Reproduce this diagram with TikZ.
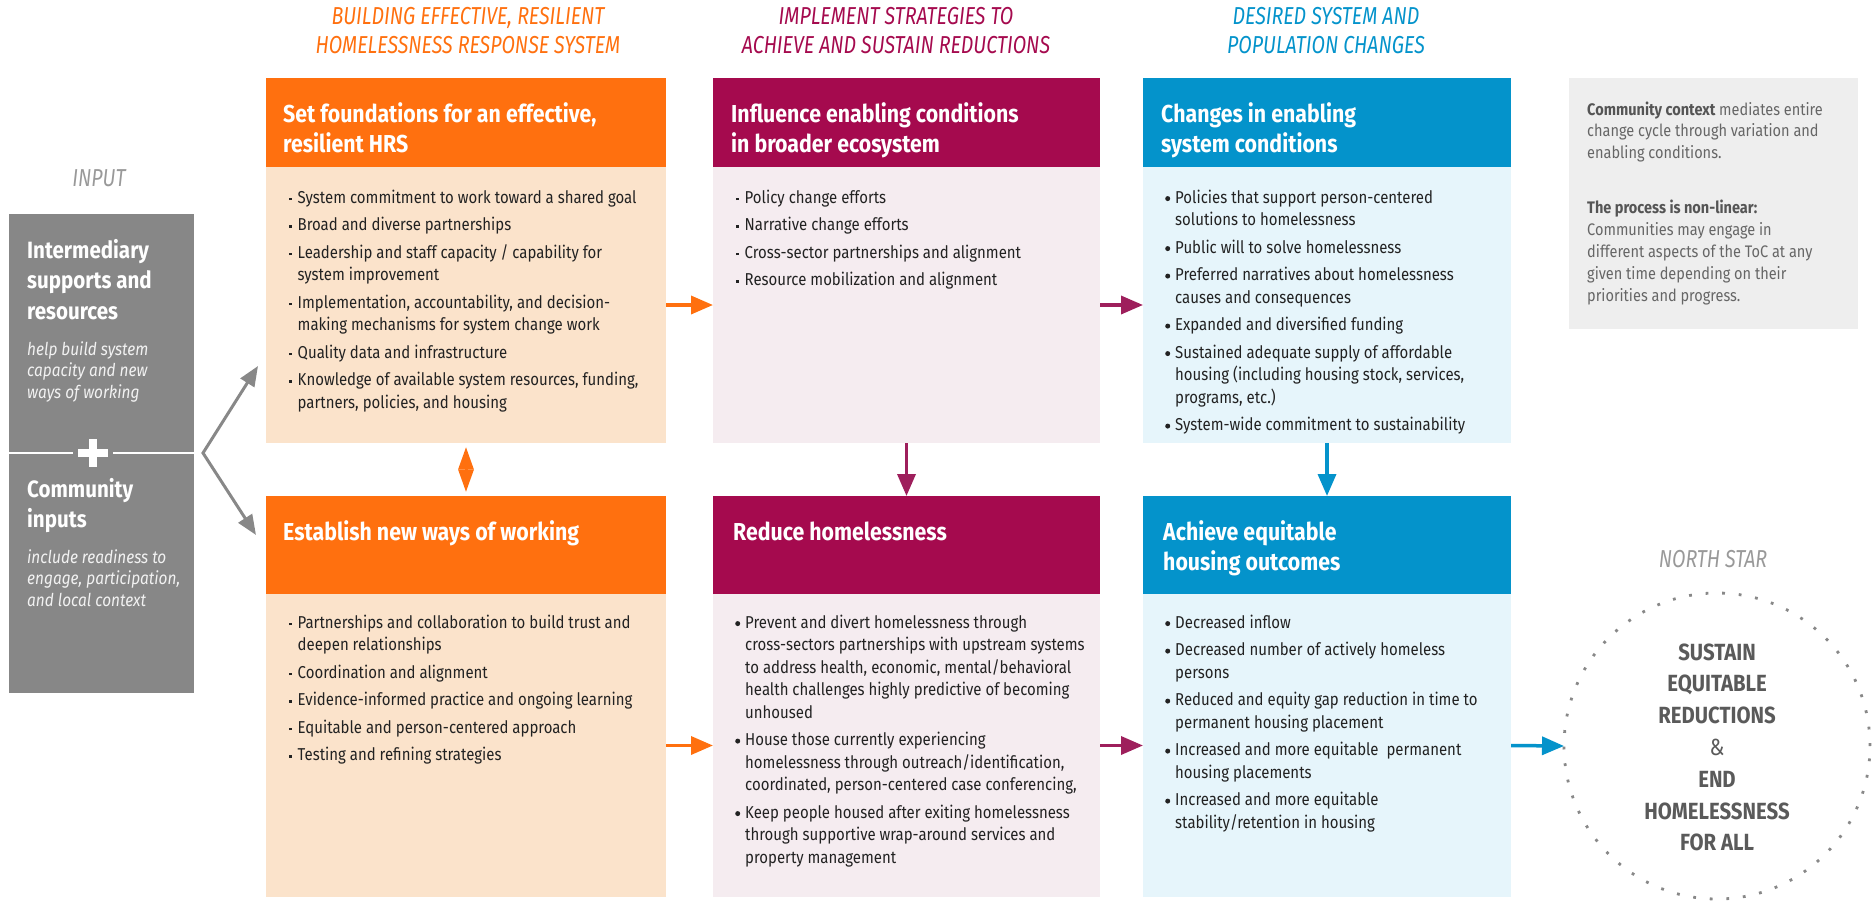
\documentclass[tikz,border=0pt]{standalone}
\usepackage{fontspec}
\setmainfont{Fira Sans}[FakeStretch=0.87]
\newfontfamily\capfont{Fira Sans}[FakeStretch=0.80]
\usetikzlibrary{arrows.meta}
\definecolor{oHead}{HTML}{FF700F}
\definecolor{oBody}{HTML}{FBE3CB}
\definecolor{mHead}{HTML}{A50A4E}
\definecolor{mBody}{HTML}{F5ECF0}
\definecolor{mArrow}{HTML}{9E1F5C}
\definecolor{bHead}{HTML}{0493CB}
\definecolor{bBody}{HTML}{E6F5FB}
\definecolor{inGray}{HTML}{878787}
\definecolor{noteBg}{HTML}{EEEEEE}
\definecolor{noteTx}{HTML}{666666}
\definecolor{noteBd}{HTML}{555555}
\definecolor{txt}{HTML}{222222}
\definecolor{starTx}{HTML}{5A5A5A}
\definecolor{lblGray}{HTML}{999999}
\definecolor{dotGray}{HTML}{888888}
\definecolor{inTx}{HTML}{F2F2F2}
\newcommand\lines[1]{\begin{tabular}[t]{@{}l@{}}#1\end{tabular}}
\newcommand\clines[1]{\begin{tabular}[t]{@{}c@{}}#1\end{tabular}}
\newcommand\blist[1]{\begin{tabular}[t]{@{}l@{}l@{}}#1\end{tabular}}
\newcommand\sqb{\makebox[8.5pt][l]{\raisebox{0.32ex}{\rule{2.4pt}{2.4pt}}}}
\newcommand\rdb{\makebox[10pt][l]{\raisebox{0.2ex}{\tikz[baseline=-2.6pt]\fill (0,0) circle[radius=2.5pt];}}}
\begin{document}
\begin{tikzpicture}[x=1pt,y=-1pt,
  box/.style={anchor=north west, inner sep=0pt, outer sep=0pt, draw=none},
  headtxt/.style={anchor=base west, inner sep=0pt, text=white, font=\fontsize{24.5}{30.5}\selectfont\bfseries},
  bodytxt/.style={anchor=base west, inner sep=0pt, text=txt, font=\fontsize{17.2}{22.5}\selectfont},
  coltitle/.style={anchor=base, inner sep=0pt, font=\capfont\itshape\fontsize{24.5}{29}\selectfont},
  inbold/.style={anchor=base west, inner sep=0pt, text=white, font=\fontsize{23.6}{30.5}\selectfont\bfseries},
  inital/.style={anchor=base west, inner sep=0pt, text=inTx, font=\fontsize{17.7}{21.7}\selectfont\itshape},
  arr/.style={line width=3.5pt, -{Triangle[length=22pt,width=18pt]}},
  oarrow/.style={arr, draw=oHead, fill=oHead},
  marrow/.style={arr, draw=mArrow, fill=mArrow},
  barrow/.style={arr, draw=bHead, fill=bHead},
  garrow/.style={line width=3pt, draw=dotGray, {Triangle[length=20pt,width=16pt]}-{Triangle[length=20pt,width=16pt]}},
]
\useasboundingbox (0,0) rectangle (1873,902);

% column titles
\node[coltitle, text=oHead] (ct1) at (468,24) {\clines{BUILDING EFFECTIVE, RESILIENT\\HOMELESSNESS RESPONSE SYSTEM}};
\node[coltitle, text=mHead] (ct2) at (896,24) {\clines{IMPLEMENT STRATEGIES TO\\ACHIEVE AND SUSTAIN REDUCTIONS}};
\node[coltitle, text=bHead] (ct3) at (1326,24) {\clines{DESIRED SYSTEM AND\\POPULATION CHANGES}};

% input
\node[coltitle, text=lblGray] (inlbl) at (99,186) {INPUT};
\node[box, fill=inGray, minimum width=185pt, minimum height=479pt] (inp) at (9,214) {};
\node[inbold] (in1) at (27,258) {\lines{Intermediary\\supports and\\resources}};
\node[inital] (in2) at (27,355) {\lines{help build system\\capacity and new\\ways of working}};
\node[inbold] (in3) at (27,497) {\lines{Community\\inputs}};
\node[inital] (in4) at (27,563) {\lines{include readiness to\\engage, participation,\\and local context}};
\draw[white, line width=1.5pt] (9,453) -- (73,453) (113,453) -- (194,453);
\draw[white, line width=8pt] (78,453) -- (108,453) (93,439) -- (93,467);

% column 1
\node[box, fill=oHead, minimum width=400pt, minimum height=89pt] (h1) at (266,78) {};
\node[box, fill=oBody, minimum width=400pt, minimum height=276pt] (b1) at (266,167) {};
\node[box, fill=oHead, minimum width=400pt, minimum height=98pt] (h4) at (266,496) {};
\node[box, fill=oBody, minimum width=400pt, minimum height=303pt] (b4) at (266,594) {};
% column 2
\node[box, fill=mHead, minimum width=387pt, minimum height=89pt] (h2) at (713,78) {};
\node[box, fill=mBody, minimum width=387pt, minimum height=276pt] (b2) at (713,167) {};
\node[box, fill=mHead, minimum width=387pt, minimum height=98pt] (h5) at (713,496) {};
\node[box, fill=mBody, minimum width=387pt, minimum height=303pt] (b5) at (713,594) {};
% column 3
\node[box, fill=bHead, minimum width=368pt, minimum height=89pt] (h3) at (1143,78) {};
\node[box, fill=bBody, minimum width=368pt, minimum height=276pt] (b3) at (1143,167) {};
\node[box, fill=bHead, minimum width=368pt, minimum height=98pt] (h6) at (1143,496) {};
\node[box, fill=bBody, minimum width=368pt, minimum height=303pt] (b6) at (1143,594) {};

% headers
\node[headtxt] (ht1) at (283,122) {\lines{Set foundations for an effective,\\resilient HRS}};
\node[headtxt] (ht2) at (731,122) {\lines{Influence enabling conditions\\in broader ecosystem}};
\node[headtxt] (ht3) at (1161,122) {\lines{Changes in enabling\\system conditions}};
\node[headtxt] (ht4) at (283,540) {\lines{Establish new ways of working}};
\node[headtxt] (ht5) at (733,540) {\lines{Reduce homelessness}};
\node[headtxt] (ht6) at (1163,540) {\lines{Achieve equitable\\housing outcomes}};

% bodies
\node[bodytxt] (t1) at (289,203) {\blist{
\sqb & System commitment to work toward a shared goal\\[5pt]
\sqb & Broad and diverse partnerships\\[5pt]
\sqb & Leadership and staff capacity / capability for\\
 & system improvement\\[5pt]
\sqb & Implementation, accountability, and decision-\\
 & making mechanisms for system change work\\[5pt]
\sqb & Quality data and infrastructure\\[5pt]
\sqb & Knowledge of available system resources, funding,\\
 & partners, policies, and housing}};
\node[bodytxt] (t2) at (736,203) {\blist{
\sqb & Policy change efforts\\[5pt]
\sqb & Narrative change efforts\\[5pt]
\sqb & Cross-sector partnerships and alignment\\[5pt]
\sqb & Resource mobilization and alignment}};
\node[bodytxt] (t3) at (1165,203) {\blist{
\rdb & Policies that support person-centered\\
 & solutions to homelessness\\[5pt]
\rdb & Public will to solve homelessness\\[5pt]
\rdb & Preferred narratives about homelessness\\
 & causes and consequences\\[5pt]
\rdb & Expanded and diversified funding\\[5pt]
\rdb & Sustained adequate supply of affordable\\
 & housing (including housing stock, services,\\
 & programs, etc.)\\[5pt]
\rdb & System-wide commitment to sustainability}};
\node[bodytxt] (t4) at (289,628) {\blist{
\sqb & Partnerships and collaboration to build trust and\\
 & deepen relationships\\[5pt]
\sqb & Coordination and alignment\\[5pt]
\sqb & Evidence-informed practice and ongoing learning\\[5pt]
\sqb & Equitable and person-centered approach\\[5pt]
\sqb & Testing and refining strategies}};
\node[bodytxt] (t5) at (735,628) {\blist{
\rdb & Prevent and divert homelessness through\\
 & cross-sectors partnerships with upstream systems\\
 & to address health, economic, mental/behavioral\\
 & health challenges highly predictive of becoming\\
 & unhoused\\[5pt]
\rdb & House those currently experiencing\\
 & homelessness through outreach/identification,\\
 & coordinated, person-centered case conferencing,\\[5pt]
\rdb & Keep people housed after exiting homelessness\\
 & through supportive wrap-around services and\\
 & property management}};
\node[bodytxt] (t6) at (1165,628) {\blist{
\rdb & Decreased inflow\\[5pt]
\rdb & Decreased number of actively homeless\\
 & persons\\[5pt]
\rdb & Reduced and equity gap reduction in time to\\
 & permanent housing placement\\[5pt]
\rdb & Increased and more equitable\ \ permanent\\
 & housing placements\\[5pt]
\rdb & Increased and more equitable\\
 & stability/retention in housing}};

% note
\node[box, fill=noteBg, minimum width=289pt, minimum height=251pt] (note) at (1569,78) {};
\node[anchor=base west, inner sep=0pt, text=noteTx, font=\fontsize{16.7}{21.8}\selectfont] (nt) at (1587,115) {\lines{
\textcolor{noteBd}{\bfseries Community context} mediates entire\\
change cycle through variation and\\
enabling conditions.\\[33.5pt]
\textcolor{noteBd}{\bfseries The process is non-linear:}\\
Communities may engage in\\
different aspects of the ToC at any\\
given time depending on their\\
priorities and progress.}};

% north star
\node[coltitle, text=lblGray] (nslbl) at (1713,567) {NORTH STAR};
\node[circle, draw=dotGray, line width=2.8pt, dash pattern=on 2.8pt off 13.8pt, minimum size=306pt, inner sep=0pt, outer sep=0pt] (star) at (1717,746) {};
\node[anchor=base, inner sep=0pt, text=starTx, font=\fontsize{23.4}{31.8}\selectfont\bfseries] (st) at (1717,660) {\clines{SUSTAIN\\EQUITABLE\\REDUCTIONS\\{\mdseries\&}\\END\\HOMELESSNESS\\FOR ALL}};

% connectors
\coordinate (fork) at (203,453);
\coordinate (tipU) at (258,366);
\coordinate (tipD) at (256,535);
\draw[garrow] (tipU) -- (fork) -- (tipD);
\draw[oarrow] (b1.east) -- (b2.west);
\draw[oarrow] (b4.east) -- (b5.west);
\draw[marrow] (b2.east) -- (b3.west);
\draw[marrow] (b5.east) -- (b6.west);
\draw[line width=3pt, draw=oHead, fill=oHead, {Triangle[length=22.5pt,width=15pt]}-{Triangle[length=22.5pt,width=15pt]}, shorten <=4pt, shorten >=4pt] (b1.south) -- (h4.north);
\draw[marrow] (b2.south) -- (h5.north);
\draw[barrow] (b3.south) -- (h6.north);
\draw[barrow] (b6.east) -- (star.west);
\end{tikzpicture}
\end{document}
